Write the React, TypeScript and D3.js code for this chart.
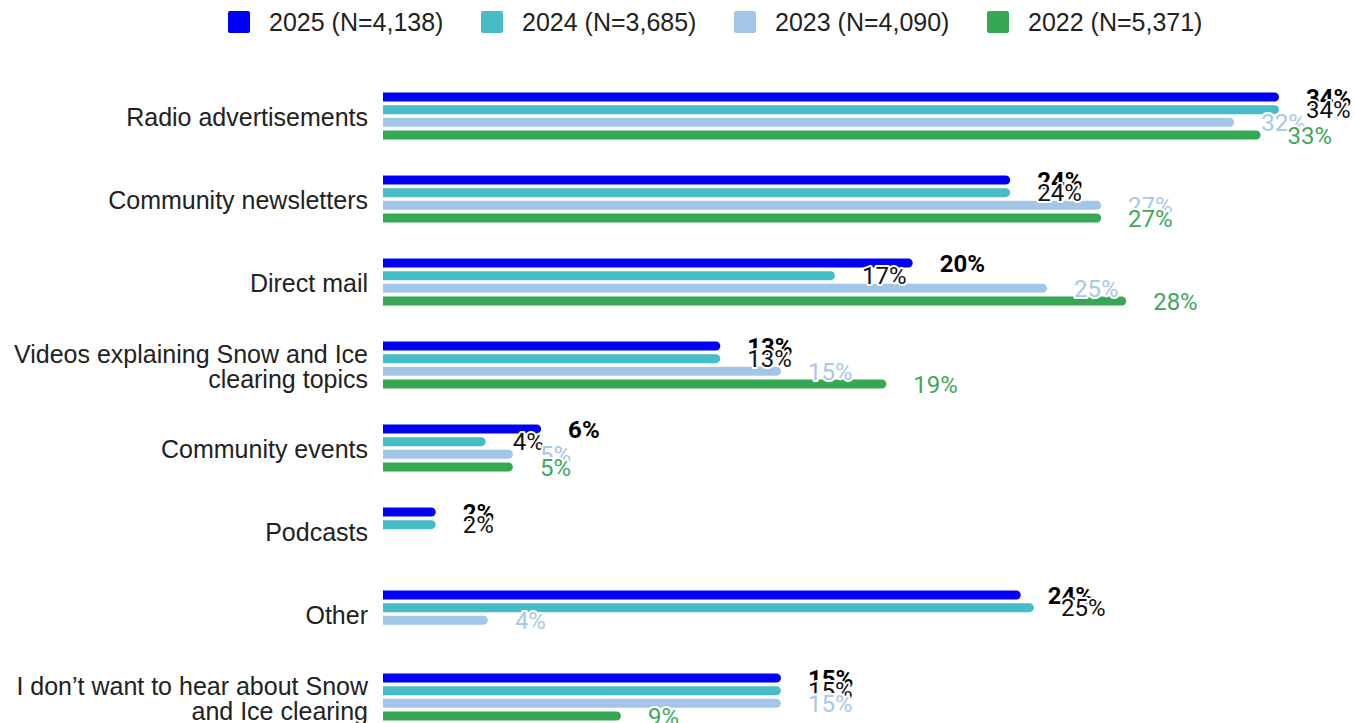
import React, { useEffect, useRef } from 'react';
import * as d3 from 'd3';

const categories = [
  ['Radio advertisements'],
  ['Community newsletters'],
  ['Direct mail'],
  ['Videos explaining Snow and Ice', 'clearing topics'],
  ['Community events'],
  ['Podcasts'],
  ['Other'],
  ['I don\u2019t want to hear about Snow', 'and Ice clearing'],
];
const seriesNames = ['2025 (N=4,138)', '2024 (N=3,685)', '2023 (N=4,090)', '2022 (N=5,371)'];
const barColors = ['#0000f5', '#46bcc6', '#a2c6e8', '#34a853'];
const labelColors = ['#000000', '#111111', '#a8c8e8', '#3fa85a'];

// percentages, one array per year (null = not asked)
const v2025 = [34.0, 23.8, 20.1, 12.8, 6.0, 2.0, 24.2, 15.1];
const v2024 = [34.0, 23.8, 17.15, 12.8, 3.9, 2.0, 24.7, 15.1];
const v2023 = [32.3, 27.25, 25.2, 15.1, 4.93, null, 3.98, 15.1];
const v2022 = [33.3, 27.25, 28.2, 19.1, 4.93, null, null, 9.03];
const values = [v2025, v2024, v2023, v2022];

const W = 1355;
const H = 723;

export default function App() {
  const ref = useRef<SVGSVGElement>(null);
  useEffect(() => {
    if (!ref.current) return;
    const svg = d3.select(ref.current);
    svg.selectAll('*').remove();
    const textFont = '"Liberation Sans", Arial, sans-serif';
    const numFont = 'Roboto, "Noto Sans", sans-serif';

    const keys = categories.map((c) => c.join(' '));
    const y0 = d3.scaleBand<string>().domain(keys).range([74.5, 74.5 + 83 * keys.length]);
    const y1 = d3.scaleBand<number>().domain([0, 1, 2, 3]).range([18, 65]).paddingInner(0.29);
    const x = d3.scaleLinear().domain([0, 34]).range([383, 1279]);
    const bh = y1.bandwidth();
    const r = bh / 2;

    // legend
    const lx = d3.scalePoint<number>().domain([0, 1, 2, 3]).range([228, 228 + 253 * 3]);
    const lg = svg.append('g');
    seriesNames.forEach((name, i) => {
      const gx = lx(i)!;
      lg.append('rect').attr('x', gx).attr('y', 11).attr('width', 22).attr('height', 22).attr('rx', 2).attr('fill', barColors[i]);
      lg.append('text').attr('x', gx + 41).attr('y', 22).attr('dy', '0.36em')
        .attr('font-family', textFont).attr('font-size', 25).attr('fill', '#222').text(name);
    });

    // category labels
    const cg = svg.append('g');
    categories.forEach((lines, ci) => {
      const cy = y0(keys[ci])! + 83 / 2 + 1;
      const lh = 25;
      lines.forEach((line, li) => {
        cg.append('text').attr('x', 368).attr('y', cy + (li - (lines.length - 1) / 2) * lh).attr('dy', '0.36em')
          .attr('text-anchor', 'end').attr('font-family', textFont).attr('font-size', 25).attr('fill', '#222').text(line);
      });
    });

    // bars
    const bg = svg.append('g');
    values.forEach((arr, si) => {
      arr.forEach((v, ci) => {
        if (v == null) return;
        const top = y0(keys[ci])! + y1(si)!;
        const x0 = x(0);
        const x1 = x(v);
        bg.append('path')
          .attr('d', `M${x0},${top} H${x1 - r} A${r},${r} 0 0 1 ${x1 - r},${top + bh} H${x0} Z`)
          .attr('fill', barColors[si]);
      });
    });

    // value labels (drawn after bars, later series on top)
    const tg = svg.append('g');
    values.forEach((arr, si) => {
      arr.forEach((v, ci) => {
        if (v == null) return;
        const cy = y0(keys[ci])! + y1(si)! + bh / 2;
        tg.append('text').attr('x', x(v) + 27).attr('y', cy).attr('dy', '0.36em')
          .attr('font-family', numFont).attr('font-size', 24)
          .attr('font-weight', si === 0 ? 700 : 400)
          .attr('fill', labelColors[si])
          .attr('stroke', '#fff').attr('stroke-width', 4).attr('stroke-linejoin', 'round')
          .attr('paint-order', 'stroke')
          .text(`${Math.round(v)}%`);
      });
    });
  }, []);

  return (
    <div style={{ position: 'absolute', left: 0, top: 0, width: W, height: H, overflow: 'hidden', background: '#fff' }}>
      <svg ref={ref} width={W} height={H} />
    </div>
  );
}
